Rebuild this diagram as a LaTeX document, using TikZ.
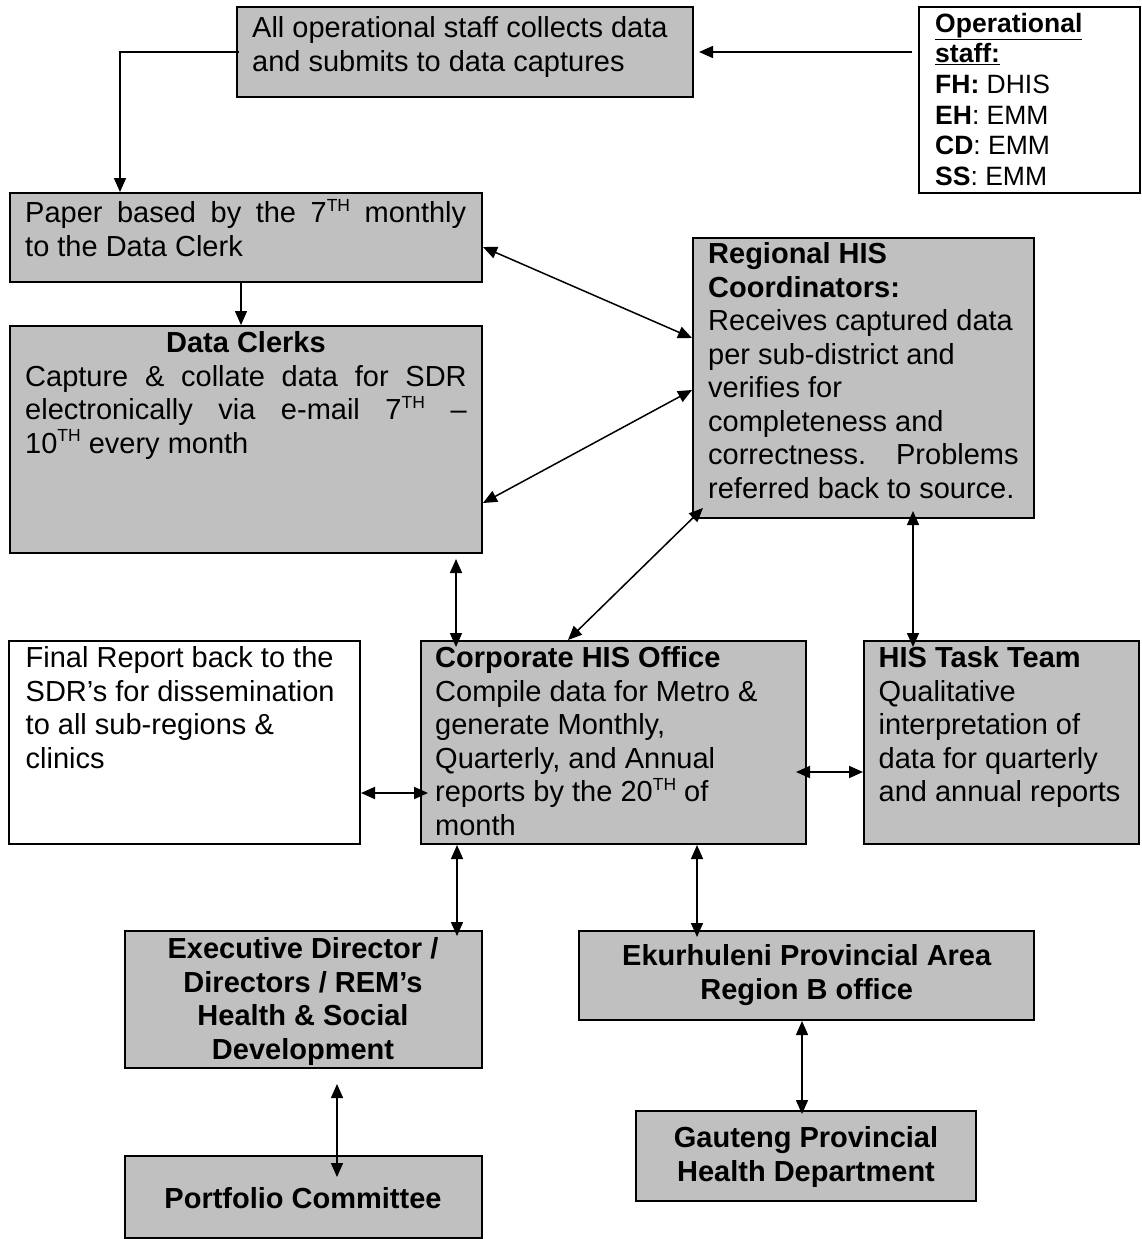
\documentclass[tikz,border=0pt]{standalone}
\usepackage{fontspec}
\setmainfont{Liberation Sans}
\usetikzlibrary{arrows.meta}
\definecolor{boxgray}{RGB}{192,192,192}
\newcommand{\boxfont}{\fontsize{29}{33.5}\selectfont}
\newcommand{\opsfont}{\fontsize{26.5}{30.7}\selectfont}
\newcommand{\supth}{\raisebox{11.5pt}{\fontsize{17.5}{17.5}\selectfont TH}}
\tikzset{
  box/.style={draw, line width=2pt, fill=boxgray, inner sep=0pt},
  whitebox/.style={box, fill=white},
  txt/.style={inner sep=0pt, anchor=north west, align=left, font=\boxfont},
  ctxt/.style={txt, anchor=north, align=center, font=\boxfont\bfseries},
  link/.style={line width=1.5pt},
  >={Triangle[length=14pt,width=12pt]}
}
\begin{document}
\begin{tikzpicture}
        [x=1pt,y=-1pt]
        \useasboundingbox (0,0) rectangle (1141,1239);

        \node[box, minimum width=456pt, minimum height=89pt] (staff) at (465,52) {};
        \node[whitebox, minimum width=221pt, minimum height=185pt] (ops) at (1029.5,100) {};
        \node[box, minimum width=472pt, minimum height=89pt] (paper) at (246,237.5) {};
        \node[box, minimum width=472pt, minimum height=227pt] (clerks) at (246,439.5) {};
        \node[box, minimum width=341pt, minimum height=280pt] (regional) at (863.5,378) {};
        \node[whitebox, minimum width=351pt, minimum height=203pt] (final) at (184.5,742.5) {};
        \node[box, minimum width=385pt, minimum height=203pt] (corporate) at (613.5,742.5) {};
        \node[box, minimum width=275pt, minimum height=203pt] (task) at (1001.5,742.5) {};
        \node[box, minimum width=357pt, minimum height=137pt] (exec) at (303.5,999.5) {};
        \node[box, minimum width=455pt, minimum height=89pt] (ekur) at (806.5,975.5) {};
        \node[box, minimum width=340pt, minimum height=90pt] (gauteng) at (806,1156) {};
        \node[box, minimum width=357pt, minimum height=82pt] (portfolio) at (303.5,1197) {};

        \node[txt] (staff-t) at (252,14) {\strut All operational staff collects data\\and submits to data captures};
        \node[txt, font=\opsfont] (ops-t) at (935,10.5) {\strut\textbf{\underline{Operational}}\\\textbf{\underline{staff:}}\\\textbf{FH:} DHIS\\\textbf{EH}: EMM\\\textbf{CD}: EMM\\\textbf{SS}: EMM};
        \node[txt, text width=441pt, align=justify] (paper-t) at (25,199) {\strut Paper based by the 7\supth{} monthly\linebreak to the Data Clerk};
        \node[txt, text width=441.5pt, align=justify] (clerks-t) at (25,329) {{\centering\strut\textbf{Data Clerks}\par}\noindent Capture \& collate data for SDR\linebreak electronically via e-mail 7\supth{} \textendash\linebreak 10\supth{} every month};
        \node[txt] (regional-t) at (708,240) {\strut\textbf{Regional HIS}\\\textbf{Coordinators:}\\Receives captured data\\per sub-district and\\verifies for\\completeness and\\correctness.\hspace{30pt}Problems\\referred back to source.};
        \node[txt] (final-t) at (25.5,644) {\strut Final Report back to the\\SDR’s for dissemination\\to all sub-regions \&\\clinics};
        \node[txt] (corporate-t) at (435,644) {\strut\textbf{Corporate HIS Office}\\Compile data for Metro \&\\generate Monthly,\\Quarterly, and Annual\\reports by the 20\supth{} of\\month};
        \node[txt] (task-t) at (878.5,644) {\strut\textbf{HIS Task Team}\\Qualitative\\interpretation of\\data for quarterly\\and annual reports};
        \node[ctxt] (exec-t) at (303,935) {\strut Executive Director /\\Directors / REM’s\\Health \& Social\\Development};
        \node[ctxt] (ekur-t) at (806.7,942) {\strut Ekurhuleni Provincial Area\\Region B office};
        \node[ctxt] (gauteng-t) at (806,1124) {\strut Gauteng Provincial\\Health Department};
        \node[ctxt] (portfolio-t) at (303,1185) {\strut Portfolio Committee};

        \draw[link,->, shorten <=6pt, shorten >=5pt] (ops.west |- 0,52) -- (staff.east |- 0,52);
        \draw[link,->] ([xshift=3pt]staff.west) -| (paper.north -| 120,0);
        \draw[link,->] (paper.south -| 241,0) -- (clerks.north -| 241,0);
        \draw[link,<->] (paper.east |- 0,247) -- (regional.west |- 0,338);
        \draw[link,<->] (clerks.east |- 0,503) -- (regional.west |- 0,390);
        \draw[link,<->] ([xshift=11pt,yshift=11pt]regional.south west) -- (corporate.north -| 568,0);
        \draw[link,<->, shorten <=5pt, shorten >=-7pt] (clerks.south -| 456,0) -- (corporate.north -| 456,0);
        \draw[link,<->, shorten <=-8pt, shorten >=-7pt] (regional.south -| 913,0) -- (task.north -| 913,0);
        \draw[link,<->, line width=1.9pt, shorten >=-8pt] (final.east |- 0,793) -- (corporate.west |- 0,793);
        \draw[link,<->, line width=1.9pt, shorten <=-11pt] (corporate.east |- 0,772) -- (task.west |- 0,772);
        \draw[link,<->, shorten >=-6pt] (corporate.south -| 457,0) -- (exec.north -| 457,0);
        \draw[link,<->, shorten >=-7pt] (corporate.south -| 697,0) -- (ekur.north -| 697,0);
        \draw[link,<->, shorten <=15pt, shorten >=-22pt] (exec.south -| 337,0) -- (portfolio.north -| 337,0);
        \draw[link,<->, shorten >=-4pt] (ekur.south -| 802,0) -- (gauteng.north -| 802,0);
      \end{tikzpicture}
\end{document}
